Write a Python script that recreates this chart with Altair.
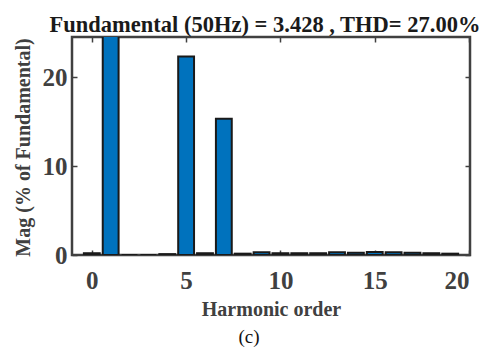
import altair as alt
import pandas as pd

harmonics = list(range(0, 20))
magnitudes = [0.2, 100.0, 0.0, 0.0, 0.1, 22.3, 0.2, 15.3, 0.15, 0.3,
              0.2, 0.2, 0.2, 0.3, 0.25, 0.35, 0.3, 0.25, 0.2, 0.15]
x_ticks = [0, 5, 10, 15, 20]
y_ticks = [0, 10, 20]

X_MIN, X_MAX = -1.05, 20.05
Y_MIN, Y_MAX = 0, 24.5

df = pd.DataFrame({"h": harmonics, "mag": magnitudes})
xt = pd.DataFrame({"t": x_ticks})

W, H = 398, 218
FONT = "Liberation Serif"
GRAY = "#404040"

xs = alt.Scale(domain=[X_MIN, X_MAX], nice=False, zero=False)
ys = alt.Scale(domain=[Y_MIN, Y_MAX], nice=False)

bars = alt.Chart(df).transform_calculate(
    x0="datum.h - 0.42", x1="datum.h + 0.42", base="0"
).mark_bar(color="#0072BD", stroke="#1a1a1a", strokeWidth=2, clip=True).encode(
    x=alt.X("x0:Q", scale=xs, axis=alt.Axis(
        orient="bottom", offset=-5, values=x_ticks, title="Harmonic order",
        grid=False, ticks=True, tickSize=5, tickWidth=1.5, tickColor=GRAY,
        domain=False, labelFont=FONT, labelFontSize=25, labelFontWeight="bold",
        labelColor=GRAY, labelPadding=13, titleFont=FONT, titleFontSize=20,
        titleFontWeight="bold", titleColor=GRAY, titleBaseline="alphabetic",
        titleY=65, titleX=W / 2)),
    x2="x1:Q",
    y=alt.Y("mag:Q", scale=ys, axis=alt.Axis(
        orient="left", offset=-5, values=y_ticks, title="Mag (% of Fundamental)",
        grid=False, ticks=True, tickSize=5, tickWidth=1.5, tickColor=GRAY,
        domain=False, labelFont=FONT, labelFontSize=25, labelFontWeight="bold",
        labelColor=GRAY, labelPadding=5, titleFont=FONT, titleFontSize=20,
        titleFontWeight="bold", titleColor=GRAY, titleBaseline="middle",
        titleX=-54, titleY=H / 2 + 1, titleAngle=270)),
    y2="base:Q",
)

mirror = alt.Chart(xt).mark_point(opacity=0).encode(
    x=alt.X("t:Q", scale=xs, axis=alt.Axis(
        orient="top", offset=-5, values=x_ticks, title=None, labels=False,
        grid=False, ticks=True, tickSize=5, tickWidth=1.5, tickColor=GRAY,
        domain=False)),
    y=alt.Y("t:Q", scale=ys, axis=alt.Axis(
        orient="right", offset=-5, values=y_ticks, title=None, labels=False,
        grid=False, ticks=True, tickSize=5, tickWidth=1.5, tickColor=GRAY,
        domain=False)),
)

caption = alt.Chart(pd.DataFrame({"c": ["(c)"]})).mark_text(
    font=FONT, fontSize=19, color="#111111", baseline="middle", align="center"
).encode(text="c:N", x=alt.value(177), y=alt.value(300))

chart = alt.layer(bars, mirror, caption).resolve_axis(
    x="independent", y="independent"
).properties(
    width=W, height=H,
    title=alt.TitleParams("Fundamental (50Hz) = 3.428 , THD= 27.00%",
                          font=FONT, fontSize=22.5, fontWeight="bold",
                          color="#1a1a1a", offset=2, dx=-6, dy=2.5),
    padding={"left": 4, "top": 6, "right": 0, "bottom": 0},
).configure_view(stroke=GRAY, strokeWidth=2.5)

chart.save("out.html", embed_options={"renderer": "svg", "actions": False})
